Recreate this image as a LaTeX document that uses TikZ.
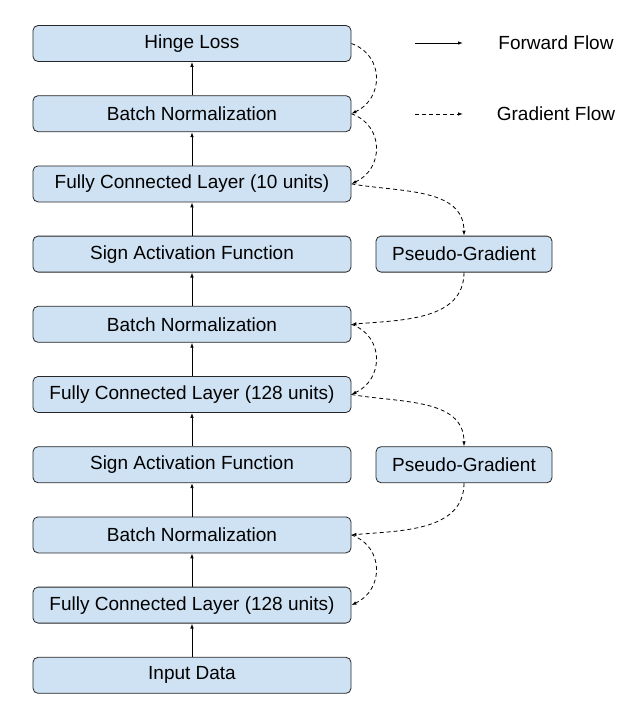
\documentclass[tikz,border=0pt]{standalone}
\usepackage{fontspec}
\setmainfont{Liberation Sans}
\usetikzlibrary{arrows.meta}
\definecolor{boxblue}{HTML}{CFE2F3}

\begin{document}
\begin{tikzpicture}[x=1pt,y=1pt,
	layer/.style={draw=black!85,line width=0.8pt,fill=boxblue,rounded corners=5pt,
		minimum width=318pt,minimum height=36pt,inner sep=0pt,
		font=\fontsize{19}{22}\selectfont},
	pseudo/.style={layer,minimum width=176pt},
	fwd/.style={line width=0.8pt,-{Latex[length=5pt,width=3.5pt]}},
	grad/.style={fwd,dash pattern=on 4pt off 3pt}]
	\useasboundingbox (0,0) rectangle (641,-718);
	\node[layer](hl) at (192,-43.5){Hinge Loss};
	\node[layer](bn3) at (192,-113.7){Batch Normalization};
	\node[layer](fc3) at (192,-183.9){Fully Connected Layer (10 units)};
	\node[layer](sg2) at (192,-254.1){Sign Activation Function};
	\node[layer](bn2) at (192,-324.3){Batch Normalization};
	\node[layer](fc2) at (192,-394.5){Fully Connected Layer (128 units)};
	\node[layer](sg1) at (192,-464.7){Sign Activation Function};
	\node[layer](bn1) at (192,-534.9){Batch Normalization};
	\node[layer](fc1) at (192,-605.1){Fully Connected Layer (128 units)};
	\node[layer](in) at (192,-675.3){Input Data};
	\node[pseudo](pg2) at (464,-254.1){Pseudo-Gradient};
	\node[pseudo](pg1) at (464,-464.7){Pseudo-Gradient};
	% forward flow
	\draw[fwd](in)--(fc1);
	\draw[fwd](fc1)--(bn1);
	\draw[fwd](bn1)--(sg1);
	\draw[fwd](sg1)--(fc2);
	\draw[fwd](fc2)--(bn2);
	\draw[fwd](bn2)--(sg2);
	\draw[fwd](sg2)--(fc3);
	\draw[fwd](fc3)--(bn3);
	\draw[fwd](bn3)--(hl);
	% gradient flow
	\draw[grad](hl.east) to[out=-20,in=25,looseness=1.3] (bn3.east);
	\draw[grad](bn3.east) to[out=-20,in=25,looseness=1.3] (fc3.east);
	\draw[grad](fc3.east) to[out=-10,in=90] (pg2.north);
	\draw[grad](pg2.south) to[out=-90,in=5] (bn2.east);
	\draw[grad](bn2.east) to[out=-20,in=25,looseness=1.3] (fc2.east);
	\draw[grad](fc2.east) to[out=-10,in=90] (pg1.north);
	\draw[grad](pg1.south) to[out=-90,in=5] (bn1.east);
	\draw[grad](bn1.east) to[out=-20,in=25,looseness=1.3] (fc1.east);
	% legend
	\coordinate(fa) at (415,-43);
	\coordinate(fb) at (463,-43);
	\coordinate(ga) at (415,-114);
	\coordinate(gb) at (463,-114);
	\draw[fwd](fa)--(fb);
	\draw[grad](ga)--(gb);
	\node[font=\fontsize{19}{22}\selectfont](fl) at (556,-43){Forward Flow};
	\node[font=\fontsize{19}{22}\selectfont](gl) at (556,-114){Gradient Flow};
\end{tikzpicture}
\end{document}
